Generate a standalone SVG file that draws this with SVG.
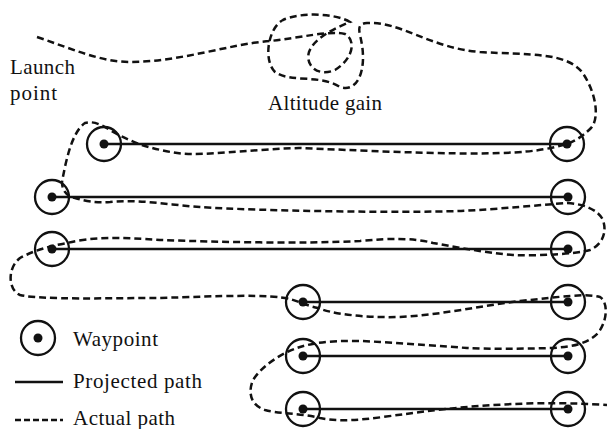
<svg xmlns="http://www.w3.org/2000/svg" width="607" height="429" viewBox="0 0 607 429">
<style>
.ring{fill:none;stroke:#111;stroke-width:2.3}
.dot{fill:#111}
.proj{stroke:#111;stroke-width:2.3;fill:none}
.act{stroke:#111;stroke-width:2.5;fill:none;stroke-dasharray:7 4}
text{font-family:"Liberation Serif","Times New Roman",serif;font-size:21px;fill:#111}
</style>
<defs>
<g id="wp"><circle class="ring" r="17"/><circle class="dot" r="4.5"/></g>
</defs>
<g id="connectors">
<line class="proj" x1="104" y1="144" x2="567" y2="144"/>
<line class="proj" x1="52" y1="197" x2="568" y2="197"/>
<line class="proj" x1="52" y1="249" x2="568" y2="249"/>
<line class="proj" x1="303" y1="302" x2="568" y2="302"/>
<line class="proj" x1="303" y1="356" x2="568" y2="356"/>
<line class="proj" x1="303" y1="409" x2="568" y2="409"/>
<path class="act" d="M37,37 C70,48 100,62 130,62 C180,62 230,44 270,41 C300,38 330,30 345,34 C356,40 354,58 335,70 C318,77 305,66 309,52 C314,38 335,28 350,22 C335,13 300,12 283,20 C268,28 263,60 275,72 C290,83 320,74 340,87 C358,93 366,70 362,45 C360,32 355,24 367,23 C400,21 430,48 480,52 C530,55 565,52 582,72 C596,92 600,118 591,128 C582,137 575,141 567,144 C555,147 540,152 500,153 C450,155 350,150 300,148 C260,149 220,154 193,154 C175,154 160,150 145,146 C135,143 125,138 115,133 C105,127 95,120 85,123 C72,132 66,160 62,182 C62,190 66,196 75,198 C85,201 95,203 110,202 C140,199 170,205 200,207 C260,211 400,213 460,211 C500,209 540,205 567,203 C585,204 598,210 603,220 C607,232 603,244 590,250 C575,254 540,256 513,255 C480,252 450,246 433,243 C415,238 390,238 360,241 C300,244 220,242 160,240 C120,237 90,237 67,243 C50,246 35,250 20,258 C7,268 8,290 20,295 C40,300 110,298 160,298 C220,296 270,294 290,299 C300,302 308,306 318,308 C330,313 360,318 400,317 C440,315 480,306 520,301 C560,297 585,293 600,297 C608,302 608,320 598,333 C588,343 575,347 550,348 C520,349 490,349 467,348 C440,346 410,344 380,342 C350,340 320,340 297,348 C280,354 262,366 253,380 C248,392 250,405 265,410 C280,414 300,413 320,418 C340,422 360,420 383,417 C420,412 450,408 480,406 C520,403 560,402 607,405"/>
</g>
<g id="wp-r1l"><use href="#wp" x="104" y="144"/></g>
<g id="wp-r1r"><use href="#wp" x="567" y="144"/></g>
<g id="wp-r2l"><use href="#wp" x="52" y="197"/></g>
<g id="wp-r2r"><use href="#wp" x="568" y="197"/></g>
<g id="wp-r3l"><use href="#wp" x="52" y="249"/></g>
<g id="wp-r3r"><use href="#wp" x="568" y="249"/></g>
<g id="wp-r4l"><use href="#wp" x="303" y="302"/></g>
<g id="wp-r4r"><use href="#wp" x="568" y="302"/></g>
<g id="wp-r5l"><use href="#wp" x="303" y="356"/></g>
<g id="wp-r5r"><use href="#wp" x="568" y="356"/></g>
<g id="wp-r6l"><use href="#wp" x="303" y="409"/></g>
<g id="wp-r6r"><use href="#wp" x="568" y="409"/></g>
<g id="labels">
<text x="10" y="74" textLength="65">Launch</text>
<text x="10" y="100" textLength="47">point</text>
<text x="268" y="110" textLength="114">Altitude gain</text>
</g>
<g id="legend">
<use href="#wp" x="38" y="338"/>
<text x="73" y="346" textLength="85">Waypoint</text>
<line class="proj" x1="15" y1="382" x2="63" y2="382"/>
<text x="73" y="388" textLength="129">Projected path</text>
<line class="act" x1="15" y1="420" x2="63" y2="420" style="stroke-dasharray:6 3"/>
<text x="73" y="425" textLength="102">Actual path</text>
</g>
</svg>
